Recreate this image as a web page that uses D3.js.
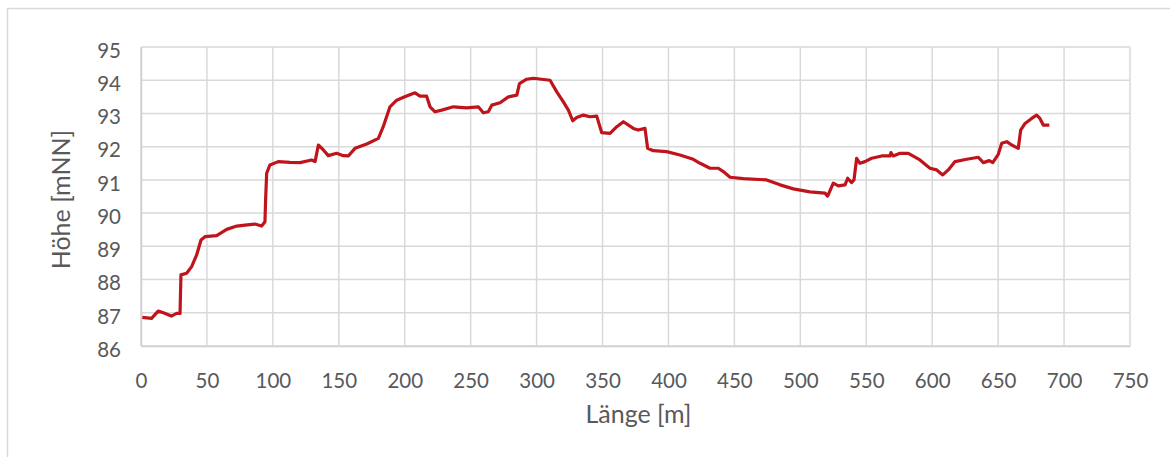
<!DOCTYPE html>
<html>
<head>
<meta charset="utf-8">
<script src="https://cdn.jsdelivr.net/npm/d3@7"></script>
<style>
  body { margin: 0; background: #fff; }
  text { font-family: Lato, "Open Sans", sans-serif; fill: #595959; }
</style>
</head>
<body>
<div id="chart-area"></div>
<script>
// profile data
const laenge = [1, 8, 13, 17, 23, 27, 29.6, 30.3, 34.6, 38.4, 42.2, 45.5, 48.5, 57.4, 65, 72.6, 78.9, 86.4, 91.5, 94, 94.5,
  95.3, 97.8, 104, 113, 120.6, 129.4, 132, 134.5, 138.3, 142, 148.4, 153.4, 157.2, 162.3, 171.2, 180, 183.7, 188.8, 193.9,
  200, 207.8, 211.6, 216.6, 219.2, 223, 228, 236.9, 247, 255.8, 259.6, 263.4, 266, 272.3, 278.6, 285, 287, 292.5, 297.5,
  310.2, 315.3, 320.3, 324.1, 327.4, 330.4, 335.4, 340.5, 345.6, 349.4, 355.7, 360.8, 365.8, 373.4, 377.1, 382.2, 384.2,
  388.5, 398.6, 408.7, 418.8, 424, 431.5, 437.8, 441.6, 446.7, 456.8, 474.5, 484.6, 494.7, 507.3, 518.7, 520.7, 525, 528.8,
  533.9, 535.9, 538.9, 540.7, 542.7, 545.2, 549, 554.1, 561.7, 568, 568.7, 570.5, 575.6, 581.9, 590.7, 598.3, 603.4, 608,
  612.2, 617.3, 626.2, 635, 638.8, 643.3, 645.9, 650.1, 652.7, 656.5, 660.3, 665.3, 667.1, 670.4, 675.4, 679.2, 681.7,
  684.2, 688.8]
const hoehe = [86.86, 86.83, 87.05, 87.0, 86.9, 86.98, 86.98, 88.14, 88.19, 88.39, 88.74, 89.19, 89.29, 89.32, 89.51, 89.61,
  89.64, 89.67, 89.61, 89.74, 90.4,
  91.2, 91.45, 91.55, 91.53, 91.52, 91.6, 91.55, 92.05, 91.9, 91.73, 91.8, 91.73, 91.72, 91.95, 92.08, 92.25, 92.6, 93.2, 93.4,
  93.5, 93.62, 93.52, 93.52, 93.2, 93.05, 93.1, 93.2, 93.17, 93.2, 93.02, 93.05, 93.25, 93.32, 93.5, 93.55, 93.9, 94.03, 94.06,
  94.0, 93.65, 93.35, 93.1, 92.78, 92.88, 92.95, 92.9, 92.92, 92.42, 92.4, 92.6, 92.75, 92.55, 92.5, 92.55, 91.95,
  91.88, 91.85, 91.75, 91.62, 91.5, 91.35, 91.35, 91.25, 91.08, 91.04, 91.0, 90.85, 90.73, 90.64, 90.6, 90.51, 90.9, 90.82,
  90.85, 91.05, 90.92, 91.0, 91.65, 91.5, 91.55, 91.65, 91.72, 91.72, 91.82, 91.72, 91.8, 91.8, 91.6, 91.35, 91.3, 91.15,
  91.3, 91.55, 91.62, 91.68, 91.52, 91.58, 91.52, 91.77, 92.1, 92.15, 92.05, 91.95, 92.5, 92.7, 92.85, 92.95, 92.85,
  92.65, 92.65]
const xTicks = d3.range(0, 751, 50)
const yTicks = d3.range(86, 96, 1)

const W = 1170, H = 457
const MARGIN = { LEFT: 141, RIGHT: 40, TOP: 47, BOTTOM: 111 }
const WIDTH = W - MARGIN.LEFT - MARGIN.RIGHT
const HEIGHT = H - MARGIN.TOP - MARGIN.BOTTOM

const svg = d3.select("#chart-area").append("svg")
  .attr("width", W)
  .attr("height", H)

// chart frame
svg.append("rect")
  .attr("x", 7.5).attr("y", 8.5)
  .attr("width", W + 20).attr("height", H + 20)
  .attr("fill", "none")
  .attr("stroke", "#d9d9d9")
  .attr("stroke-width", 1.5)

const g = svg.append("g")
  .attr("transform", `translate(${MARGIN.LEFT}, ${MARGIN.TOP})`)

// Scales
const x = d3.scaleLinear().domain([0, 750]).range([0, WIDTH])
const y = d3.scaleLinear().domain([86, 95]).range([HEIGHT, 0])

// Grid
g.append("g")
  .attr("class", "grid")
  .selectAll("line.v")
  .data(xTicks)
  .join("line")
    .attr("x1", d => x(d)).attr("x2", d => x(d))
    .attr("y1", 0).attr("y2", HEIGHT)
g.append("g")
  .attr("class", "grid")
  .selectAll("line.h")
  .data(yTicks)
  .join("line")
    .attr("x1", 0).attr("x2", WIDTH)
    .attr("y1", d => y(d)).attr("y2", d => y(d))
g.selectAll(".grid line")
  .attr("stroke", "#d9d9d9")
  .attr("stroke-width", 1.5)

// Axes
const xAxisCall = d3.axisBottom(x).tickValues(xTicks).tickSize(0).tickPadding(27)
g.append("g")
  .attr("class", "x axis")
  .attr("transform", `translate(0, ${HEIGHT})`)
  .call(xAxisCall)
const yAxisCall = d3.axisLeft(y).tickValues(yTicks).tickSize(0).tickPadding(20)
g.append("g")
  .attr("class", "y axis")
  .call(yAxisCall)
g.selectAll(".axis .domain")
  .attr("stroke", "#d0d0d0")
  .attr("stroke-width", 1.5)
g.selectAll(".axis text")
  .attr("font-size", "20.5px")
  .attr("fill", "#595959")
g.selectAll(".y.axis text").attr("dy", "0.5em")

// Labels
g.append("text")
  .attr("x", WIDTH * 0.5 + 3)
  .attr("y", HEIGHT + 77)
  .attr("font-size", "25px")
  .attr("text-anchor", "middle")
  .text("Länge [m]")
g.append("text")
  .attr("transform", "rotate(-90)")
  .attr("x", -(HEIGHT / 2) - 3)
  .attr("y", -71)
  .attr("font-size", "25px")
  .attr("text-anchor", "middle")
  .text("Höhe [mNN]")

// Line
const pts = laenge.map((d, i) => [d, hoehe[i]])
g.append("path")
  .datum(pts)
  .attr("fill", "none")
  .attr("stroke", "#c0141c")
  .attr("stroke-width", 3.2)
  .attr("stroke-linejoin", "round")
  .attr("d", d3.line().x(d => x(d[0])).y(d => y(d[1])))
</script>
</body>
</html>
